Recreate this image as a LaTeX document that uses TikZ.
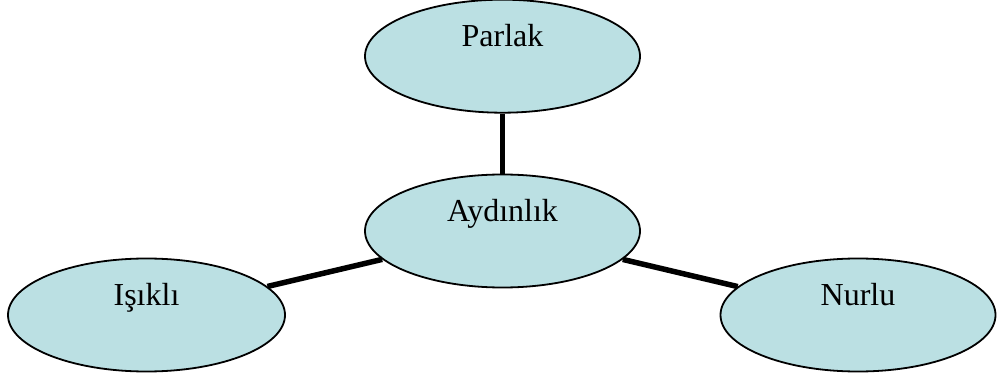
\documentclass[tikz,border=0pt]{standalone}
\usepackage{fontspec}
\setmainfont{Liberation Serif}
\usepackage{tikz}
\usetikzlibrary{positioning, shapes.geometric}
\definecolor{paleblue}{RGB}{187,224,227}

\begin{document}
\begin{tikzpicture}[x=1pt, y=1pt, node distance=60pt,
  bubble/.style={draw, ellipse, fill=paleblue, line width=1.8pt, minimum width=275pt, minimum height=113pt,
    text height=22pt, text depth=41pt, font=\fontsize{32}{38}\selectfont},
  link/.style={line width=5.5pt}]
  \useasboundingbox (0,0) rectangle (998,-379);
  \node[bubble] (aydinlik) at (502.5,-231) {Aydınlık};
  \node[bubble, above=of aydinlik] (parlak) {Parlak};
  \node[bubble, minimum width=277pt] (isikli) at (146.5,-315) {Işıklı};
  \node[bubble] (nurlu) at (858,-315) {Nurlu};
  \draw[link] (aydinlik) -- (parlak);
  \draw[link] (aydinlik) -- (isikli);
  \draw[link] (aydinlik) -- (nurlu);
\end{tikzpicture}
\end{document}
